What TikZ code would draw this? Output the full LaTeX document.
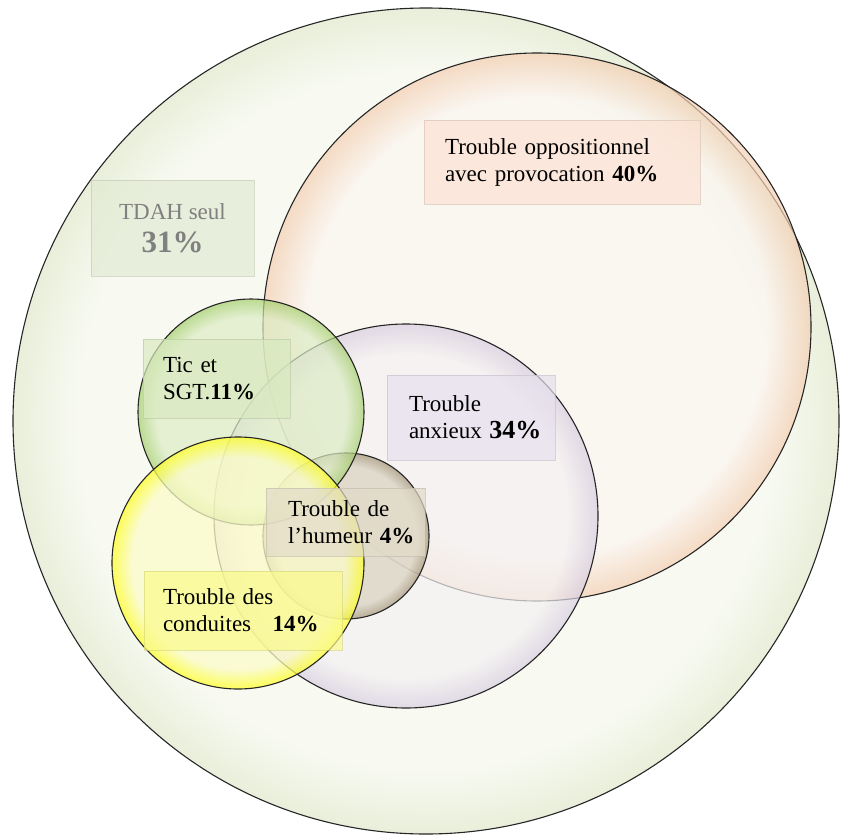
\documentclass[tikz,border=0pt]{standalone}
\usepackage{fontspec}
\setmainfont{Liberation Serif}
\newcommand\labelfont{\fontsize{23}{27}\selectfont}

% colours of the bubbles
\definecolor{tdahin}{HTML}{F8FAF2}
\definecolor{tdahout}{HTML}{E5ECD4}
\definecolor{oddin}{HTML}{FBF5F0}
\definecolor{oddout}{HTML}{F2C4A2}
\definecolor{anxin}{HTML}{F4F1F2}
\definecolor{anxout}{HTML}{D0C4DC}
\definecolor{ticin}{HTML}{DCECC4}
\definecolor{ticout}{HTML}{94C654}
\definecolor{condin}{HTML}{FCFCC8}
\definecolor{condout}{HTML}{FFFF00}
\definecolor{humin}{HTML}{D9D2C0}
\definecolor{humout}{HTML}{928260}
% colours of the label boxes
\definecolor{tdahbox}{HTML}{E2EAD3}
\definecolor{oddbox}{HTML}{FCE2D3}
\definecolor{ticbox}{HTML}{D9EAC0}
\definecolor{anxbox}{HTML}{E6E0EE}
\definecolor{humbox}{HTML}{E2DBC9}
\definecolor{condbox}{HTML}{FAFA8C}

\colorlet{bubblein}{white}
\colorlet{bubbleout}{gray}
\pgfdeclareradialshading[bubblein,bubbleout]{bubble}{\pgfpoint{0bp}{0bp}}{%
  color(0bp)=(bubblein); color(21bp)=(bubblein);
  color(26bp)=(bubbleout); color(50bp)=(bubbleout)}

\begin{document}
\begin{tikzpicture}[x=1pt, y=-1pt,
    bubble in/.code={\colorlet{bubblein}{#1}},
    bubble out/.code={\colorlet{bubbleout}{#1}},
    bubble/.style 2 args={shade, shading=bubble, bubble in=#1, bubble out=#2,
      fill opacity=0.7, draw=black!85, line width=1.1pt},
    labelbox/.style={draw=#1!85!black, fill=#1, fill opacity=0.7,
      draw opacity=0.6, text opacity=1, align=left, font=\labelfont}]
   \useasboundingbox (0,0) rectangle (842,834);
   % the circles, back to front
   \path[bubble={tdahin}{tdahout}, fill opacity=1] (426,421) circle[radius=413];
   \path[bubble={oddin}{oddout}] (537,327) circle[radius=274];
   \path[bubble={anxin}{anxout}] (406,516) circle[radius=192];
   \path[bubble={humin}{humout}] (346,536) circle[radius=83];
   \path[bubble={ticin}{ticout}] (251,412) circle[radius=113];
   \path[bubble={condin}{condout}, fill opacity=0.75] (238,563) circle[radius=126];
   % the labels
   \node[labelbox=tdahbox, align=center, text=black!50,
     minimum width=163pt, minimum height=96pt] (tdah) at (172.5,228)
     {TDAH seul\\[6pt] {\fontsize{31}{34}\selectfont\bfseries 31\%}};
   \node[labelbox=oddbox, inner xsep=21pt, text width=234pt,
     minimum height=84pt] (odd) at (562,162)
     {Trouble oppositionnel\\avec provocation~\textbf{40\%}};
   \node[labelbox=ticbox, inner xsep=20pt, text width=107pt,
     minimum height=79pt] (tic) at (216.5,378.5)
     {Tic et\\SGT.\textbf{11\%}};
   \node[labelbox=anxbox, inner xsep=22pt, text width=124pt,
     minimum height=85pt] (anx) at (471,417.5)
     {Trouble\\anxieux~{\fontsize{26}{27}\selectfont\bfseries 34\%}};
   \node[labelbox=humbox, inner xsep=22pt, text width=115pt,
     minimum height=68pt] (hum) at (345.5,522)
     {Trouble de\\l’humeur~\textbf{4\%}};
   \node[labelbox=condbox, inner xsep=19pt, text width=160pt,
     minimum height=79pt] (cond) at (243,610.5)
     {Trouble des\\conduites~\hspace{0.6em}\textbf{14\%}};
\end{tikzpicture}
\end{document}
